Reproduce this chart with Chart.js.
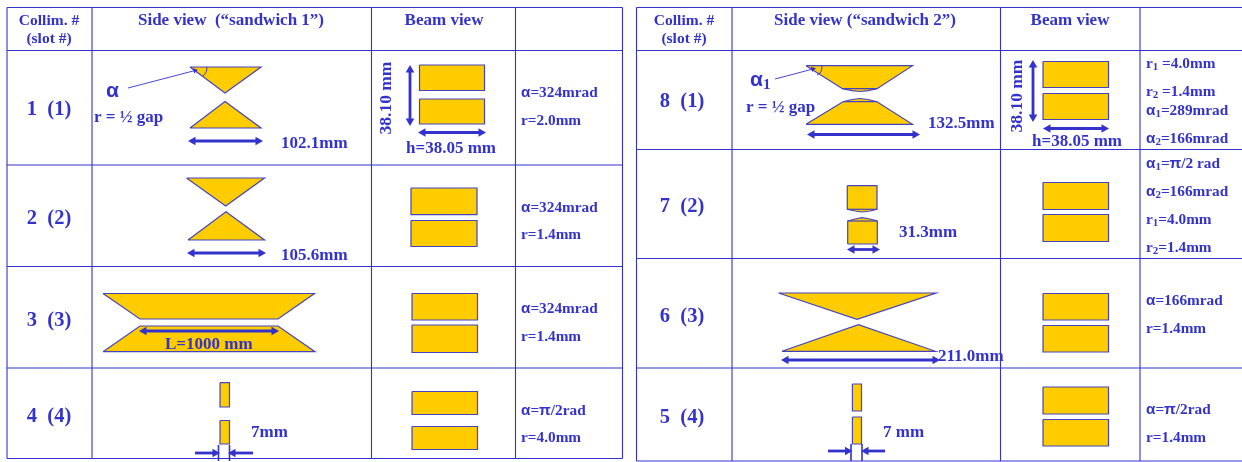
<!DOCTYPE html>
<html><head><meta charset="utf-8">
<style>html,body{margin:0;padding:0;background:#fff}canvas{display:block}</style>
<script src="https://cdn.jsdelivr.net/npm/chart.js@4/dist/chart.umd.min.js"></script>
</head><body><canvas id="c" width="1242" height="462"></canvas>
<script>
// table rules
const leftColumns=[7,92,371.5,515.5,622.5];
const leftRows=[7.5,50.5,165,266.5,368,458.5];
const rightColumns=[636.5,732,1000.5,1140];
const rightRows=[7.5,50.5,149.5,258.5,368,461];
// jaw outlines (side view)
const jawShapes=[
 [[190,67],[225,93],[261,67]],[[190,128],[225,101.5],[261,128]],
 [[186.5,178],[225.7,206],[264.5,178]],[[188,240],[226,211.7],[264.5,240]],
 [[103,293.5],[140,319],[278,319],[314.5,293.5]],[[103,351.7],[140,326],[278,326],[315,351.7]],
 [[220,382.7],[220,407],[229.5,407],[229.5,382.7]],[[220,420.5],[220,444],[229.5,444],[229.5,420.5]],
 [[806,65.7],[842.5,88.7],[852,90.7],[860,91.5],[868,90.7],[877,88.7],[912.5,65.7]],
 [[806,124.3],[843,101.7],[852,99.5],[860,98.5],[868,99.5],[877,101.7],[912.5,124.3]],
 [[847.3,185.7],[847.3,209.3],[855,211],[862,212],[870,211],[877,209.3],[877,185.7]],
 [[847.7,244],[847.7,221],[855,219],[862,217.7],[870,219],[877.3,221],[877.3,244]],
 [[778.5,293],[857,319.3],[936,293]],[[782,351.3],[858.4,324.7],[935.5,351.3]],
 [[852.4,384],[852.4,411],[861.5,411],[861.5,384]],[[852.4,417],[852.4,444],[861.5,444],[861.5,417]]
];
const flatEdges=[[[842.5,88.7],[877,88.7]],[[843,101.7],[877,101.7]],[[847.3,209.3],[877,209.3]],[[847.7,221],[877.3,221]]];
// beam-view blocks: left, top, right, bottom
const beamBlocks=[
 [419.5,65,484.5,90.5],[419.5,99,484.5,124],
 [411,188,477,214.7],[411,220.5,477,246.5],
 [412,293.5,477.5,320],[412,325,477.5,352.5],
 [412,391.5,477.5,414.5],[412,426.5,477.5,449.5],
 [1043,61.5,1108.5,87.5],[1043,93.5,1108.5,119.5],
 [1043,182.5,1108.5,209.5],[1043,214.5,1108.5,241.5],
 [1043,293.5,1108.5,320],[1043,325.5,1108.5,352],
 [1043,387,1108.5,414],[1043,419.5,1108.5,446]
];
// double arrows
const doubleArrows=[
 [[193,141],[258,141]],[[410,70],[410,121]],[[423,132.5],[481,132.5]],
 [[192,253],[261,253]],[[144,331],[274,331]],
 [[812,134.5],[915,134.5]],[[1033,65],[1033,117]],[[1048,128.5],[1104,128.5]],
 [[852,249.5],[875,249.5]],[[786,360],[935,360]]
];
const inwardArrows=[[[195,453],[215,453]],[[253,453],[233,453]],[[828,451],[847.5,451]],[[885,451],[866,451]]];
const gapTicks=[[[218.5,445],[218.5,461]],[[229.5,445],[229.5,461]],[[851,444],[851,461]],[[862,444],[862,461]]];
const leaderLines=[[[128,88],[195,70.5]],[[775,79],[813,69]]];
const angleArcs=[[[207,67],[206.7,70],[205.5,73],[203,76]],[[822,66],[821.5,70],[820,73],[817,75]]];
// texts
const headerTexts=["Side view  (“sandwich 1”)","Beam view","Side view (“sandwich 2”)","Beam view"];
const headerAnchors=[[231,21],[444,21],[865,21],[1070,21]];
const slotColumnTexts=["Collim. #","(slot #)","Collim. #","(slot #)"];
const slotColumnAnchors=[[49,21],[49,39],[684,21],[684,39]];
const slotTexts=["1  (1)","2  (2)","3  (3)","4  (4)","8  (1)","7  (2)","6  (3)","5  (4)"];
const slotAnchors=[[49,110],[49,219],[49,321],[49,417],[682,102],[682,207],[682,317],[682,418]];
const lengthTexts=["102.1mm","105.6mm","L=1000 mm","7mm","132.5mm","31.3mm","211.0mm","7 mm","h=38.05 mm","h=38.05 mm","r = ½ gap","r = ½ gap"];
const lengthAnchors=[[281,144],[281,256],[165,345],[251,433],[928,124],[899,233],[938,357],[883,433],[406,149],[1032,142],[94,118],[746,108]];
const paramTexts=["α=324mrad","r=2.0mm","α=324mrad","r=1.4mm","α=324mrad","r=1.4mm","α=π/2rad","r=4.0mm",
 "r_1 =4.0mm","r_2 =1.4mm","α_1=289mrad","α_2=166mrad","α_1=π/2 rad","α_2=166mrad","r_1=4.0mm","r_2=1.4mm","α=166mrad","r=1.4mm","α=π/2rad","r=1.4mm"];
const paramAnchors=[[521,93],[521,121],[521,208],[521,235],[521,309],[521,337],[521,411],[521,438],
 [1146,64],[1146,92],[1146,111],[1146,139],[1146,164],[1146,192],[1146,220],[1146,248],[1146,301],[1146,329],[1146,410],[1146,438]];
const angleTexts=["α","α_1"];
const angleAnchors=[[106,91],[750,80]];
const rotatedTexts=["38.10 mm","38.10 mm"];
const rotatedAnchors=[[386,98],[1017,96]];

const BLUE="#3333cc",GOLD="#ffcc00",EDGE="#4444c0";
const SERIF='"Liberation Serif"',SANS='"Liberation Sans"';
const pts=a=>a.map(p=>({x:p[0],y:p[1]}));
const base={showLine:true,pointRadius:0,clip:false,fill:false,tension:0};
const ds=[];
const line=(a,w,c)=>ds.push({...base,data:pts(a),borderColor:c||BLUE,borderWidth:w});
const poly=a=>{
  ds.push({...base,data:pts(a),fill:'shape',backgroundColor:GOLD,borderWidth:0,borderColor:'transparent'});
  ds.push({...base,data:pts([...a,a[0]]),borderColor:EDGE,borderWidth:1.2});
};
const grid=(cols,rows,xEnd)=>{
  rows.forEach(y=>line([[cols[0],y],[xEnd,y]],1.1));
  cols.forEach(x=>line([[x,rows[0]],[x,rows[rows.length-1]]],1.1));
};
grid(leftColumns,leftRows,leftColumns[4]);
grid(rightColumns,rightRows,1242);
jawShapes.forEach(poly);
beamBlocks.forEach(b=>poly([[b[0],b[1]],[b[0],b[3]],[b[2],b[3]],[b[2],b[1]]]));
flatEdges.forEach(a=>line(a,1.2,EDGE));
const heading=(p,q)=>Math.atan2(q[0]-p[0],p[1]-q[1])*180/Math.PI;
doubleArrows.forEach(a=>ds.push({...base,data:pts(a),borderColor:BLUE,borderWidth:2.8,pointRadius:5,
  pointStyle:'triangle',pointBackgroundColor:BLUE,pointBorderColor:BLUE,pointBorderWidth:0,
  pointRotation:[heading(a[1],a[0]),heading(a[0],a[1])]}));
inwardArrows.forEach(a=>ds.push({...base,data:pts(a),borderColor:BLUE,borderWidth:2.8,
  pointRadius:[0,5],pointStyle:'triangle',pointBackgroundColor:BLUE,pointBorderWidth:0,pointRotation:heading(a[0],a[1])}));
gapTicks.forEach(a=>line(a,1.6));
leaderLines.forEach(a=>ds.push({...base,data:pts(a),borderColor:BLUE,borderWidth:0.9,pointRadius:[0,3],
  pointStyle:'triangle',pointBackgroundColor:BLUE,pointBorderWidth:0,pointRotation:heading(a[0],a[1])}));
angleArcs.forEach(a=>ds.push({...base,data:pts(a),borderColor:BLUE,borderWidth:1,tension:0.4}));
ds.reverse(); // Chart.js paints the first dataset last

function rich(ctx,str,x,y,size,align){
  const parts=[];
  for(let i=0;i<str.length;i++){
    const ch=str[i];
    if(ch==='_'){parts.push({t:str[++i],f:`bold ${size*0.72}px ${SERIF}`,dy:size*0.22});continue;}
    const f=(ch==='α'||ch==='π')?`bold ${size}px ${SANS}`:`bold ${size}px ${SERIF}`;
    const last=parts[parts.length-1];
    if(last&&last.f===f&&!last.dy)last.t+=ch;else parts.push({t:ch,f,dy:0});
  }
  let w=0;parts.forEach(p=>{ctx.font=p.f;p.w=ctx.measureText(p.t).width;w+=p.w;});
  let cx=align==='center'?x-w/2:x;
  ctx.textAlign='left';ctx.textBaseline='middle';
  parts.forEach(p=>{ctx.font=p.f;ctx.fillText(p.t,cx,y+p.dy);cx+=p.w;});
}
const textPlugin={id:'cellText',afterDatasetsDraw(c){
  const ctx=c.ctx,X=c.scales.x,Y=c.scales.y;ctx.save();ctx.fillStyle=BLUE;
  const put=(tx,an,size,al)=>tx.forEach((s,i)=>rich(ctx,s,X.getPixelForValue(an[i][0]),Y.getPixelForValue(an[i][1]),size,al));
  put(headerTexts,headerAnchors,17,'center');
  put(slotColumnTexts,slotColumnAnchors,15.5,'center');
  put(slotTexts,slotAnchors,20.5,'center');
  put(lengthTexts,lengthAnchors,17,'left');
  put(paramTexts,paramAnchors,15.3,'left');
  put(angleTexts,angleAnchors,21,'left');
  rotatedTexts.forEach((s,i)=>{ctx.save();
    ctx.translate(X.getPixelForValue(rotatedAnchors[i][0]),Y.getPixelForValue(rotatedAnchors[i][1]));
    ctx.rotate(-Math.PI/2);rich(ctx,s,0,0,17.5,'center');ctx.restore();});
  ctx.restore();
}};
new Chart(document.getElementById('c'),{type:'scatter',data:{datasets:ds},plugins:[textPlugin],options:{
  responsive:false,animation:false,layout:{padding:0,autoPadding:false},
  plugins:{legend:{display:false},tooltip:{enabled:false},title:{display:false}},
  scales:{x:{type:'linear',min:0,max:1242,display:false},y:{type:'linear',min:0,max:462,reverse:true,display:false}}
}});
</script></body></html>
